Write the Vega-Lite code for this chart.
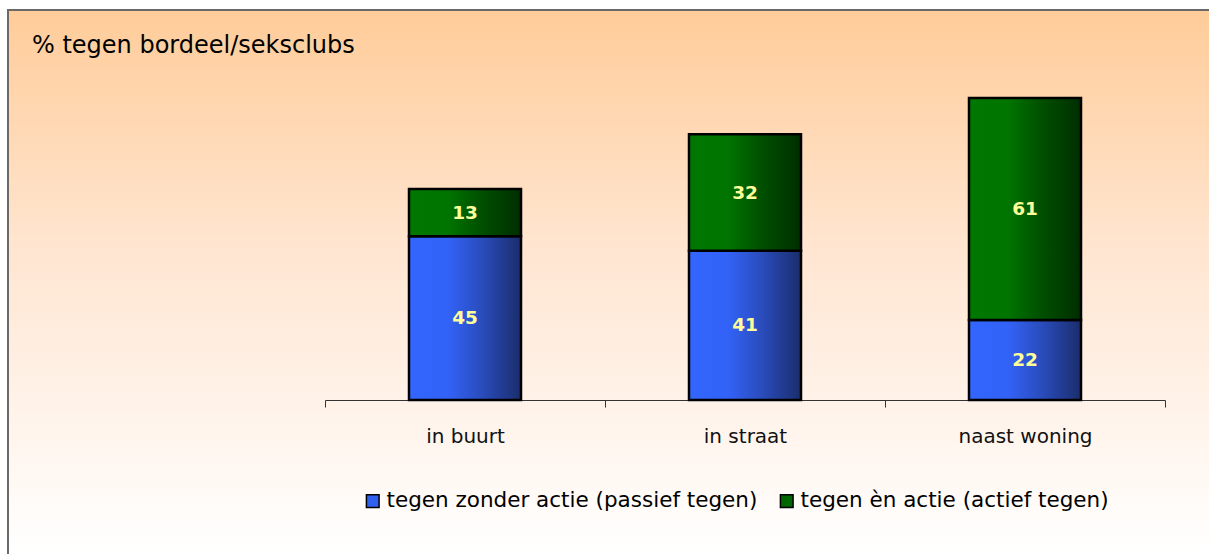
{
  "$schema": "https://vega.github.io/schema/vega-lite/v6.json",
  "width": 1201,
  "height": 544,
  "autosize": "none",
  "padding": {"left": 8, "top": 10, "right": 0, "bottom": 0},
  "background": "#ffffff",
  "config": {
    "font": "DejaVu Sans",
    "view": {
      "fill": {
        "gradient": "linear",
        "x1": 0, "y1": 0, "x2": 0, "y2": 1,
        "stops": [
          {"offset": 0, "color": "#FFCC99"},
          {"offset": 0.45, "color": "#FFE6D2"},
          {"offset": 1, "color": "#FFFFFF"}
        ]
      },
      "stroke": "#6a6a6a",
      "strokeWidth": 2,
      "strokeDash": [1201, 1745, 544]
    }
  },
  "title": {
    "text": "% tegen bordeel/seksclubs",
    "anchor": "start",
    "frame": "group",
    "font": "DejaVu Sans",
    "fontSize": 24,
    "fontWeight": "normal",
    "color": "#000000",
    "baseline": "alphabetic",
    "offset": 0,
    "dx": 24,
    "dy": 67
  },
  "data": {
    "values": [
      {"locatie": "in buurt", "type": "tegen zonder actie (passief tegen)", "pct": 45},
      {"locatie": "in buurt", "type": "tegen èn actie (actief tegen)", "pct": 13},
      {"locatie": "in straat", "type": "tegen zonder actie (passief tegen)", "pct": 41},
      {"locatie": "in straat", "type": "tegen èn actie (actief tegen)", "pct": 32},
      {"locatie": "naast woning", "type": "tegen zonder actie (passief tegen)", "pct": 22},
      {"locatie": "naast woning", "type": "tegen èn actie (actief tegen)", "pct": 61}
    ]
  },
  "encoding": {
    "x": {
      "field": "locatie",
      "type": "nominal",
      "sort": ["in buurt", "in straat", "naast woning"],
      "scale": {"range": [317, 1157], "paddingInner": 0, "paddingOuter": 0},
      "axis": {
        "title": null,
        "orient": "bottom",
        "offset": -154,
        "tickBand": "extent",
        "domainColor": "#333333",
        "domainWidth": 1,
        "tickColor": "#333333",
        "tickWidth": 1,
        "tickSize": 7,
        "labelPadding": 19,
        "labelFont": "DejaVu Sans",
        "labelFontSize": 20,
        "labelColor": "#111111",
        "labelAngle": 0,
        "grid": false
      }
    },
    "y": {
      "field": "pct",
      "type": "quantitative",
      "stack": "zero",
      "scale": {"domain": [0, 100], "range": [390, 26], "nice": false},
      "axis": null
    },
    "order": {"field": "type", "sort": "ascending"}
  },
  "layer": [
    {
      "mark": {"type": "bar", "stroke": "#000000", "strokeWidth": 2, "width": {"band": 0.4}},
      "encoding": {
        "fill": {
          "field": "type",
          "type": "nominal",
          "scale": {
            "domain": ["tegen zonder actie (passief tegen)", "tegen èn actie (actief tegen)"],
            "range": ["#3060F0", "#006600"]
          },
          "legend": {
            "title": null,
            "orient": "none",
            "direction": "horizontal",
            "legendX": 354,
            "legendY": 480,
            "padding": 0,
            "symbolType": "square",
            "symbolSize": 160,
            "symbolStrokeColor": "#000000",
            "symbolStrokeWidth": 1.5,
            "symbolOpacity": 1,
            "labelFont": "DejaVu Sans",
            "labelFontSize": 21.5,
            "labelColor": "#000000",
            "labelOffset": 3,
            "columnPadding": 18,
            "labelLimit": 500
          }
        }
      }
    },
    {
      "mark": {"type": "bar", "stroke": "#000000", "strokeWidth": 2.5, "width": {"band": 0.4}},
      "encoding": {
        "detail": {"field": "type", "type": "nominal"},
        "fill": {
          "condition": {
            "test": "datum.type === 'tegen zonder actie (passief tegen)'",
            "value": {
              "gradient": "linear", "x1": 0, "y1": 0, "x2": 1, "y2": 0,
              "stops": [
                {"offset": 0, "color": "#3366FF"},
                {"offset": 0.35, "color": "#3262F6"},
                {"offset": 0.65, "color": "#2A4CBC"},
                {"offset": 1, "color": "#1A2D6C"}
              ]
            }
          },
          "value": {
            "gradient": "linear", "x1": 0, "y1": 0, "x2": 1, "y2": 0,
            "stops": [
              {"offset": 0, "color": "#007800"},
              {"offset": 0.35, "color": "#007400"},
              {"offset": 0.65, "color": "#004F00"},
              {"offset": 1, "color": "#002E00"}
            ]
          }
        }
      }
    },
    {
      "mark": {"type": "text", "font": "DejaVu Sans", "fontWeight": "bold", "fontSize": 18.5, "color": "#FFFF99", "baseline": "middle", "align": "center"},
      "encoding": {
        "detail": {"field": "type", "type": "nominal"},
        "y": {"field": "pct", "type": "quantitative", "stack": "zero", "bandPosition": 0.5},
        "text": {"field": "pct", "type": "quantitative"}
      }
    }
  ]
}
